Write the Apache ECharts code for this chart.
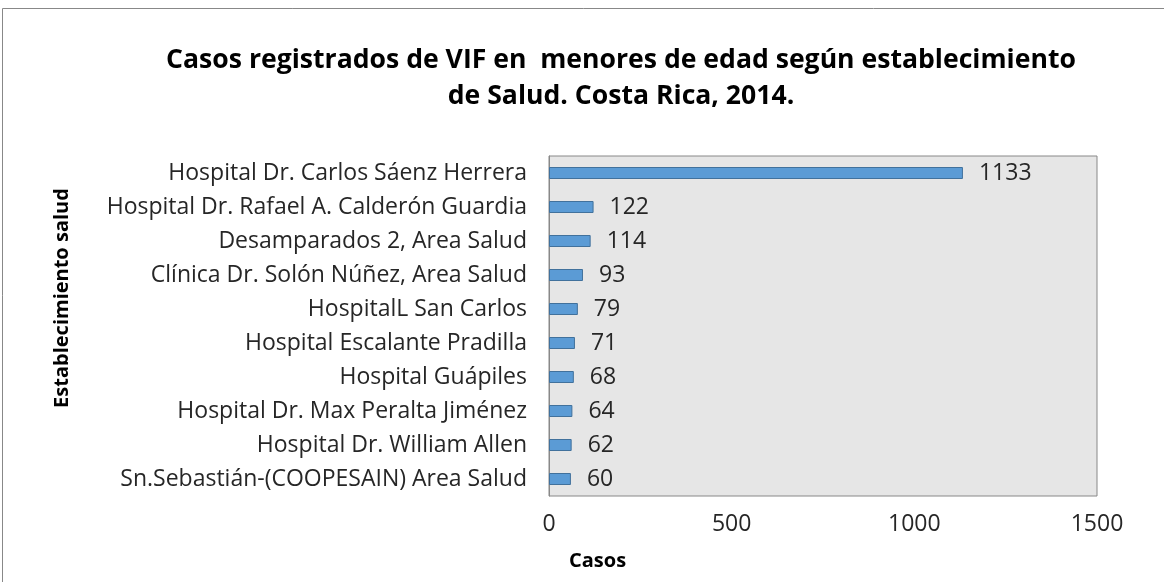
<!DOCTYPE html>
<html>
<head>
<meta charset="utf-8">
<script src="https://cdn.jsdelivr.net/npm/echarts@6/dist/echarts.min.js"></script>
<style>
  html, body { margin: 0; padding: 0; background: #fff; }
  #chart { width: 1164px; height: 582px; }
</style>
</head>
<body>
<div id="chart"></div>
<script>
// Establecimientos (de arriba hacia abajo, como en la figura)
const establecimientos = [
    "Hospital Dr. Carlos Sáenz Herrera",
    "Hospital Dr. Rafael A. Calderón Guardia",
    "Desamparados 2, Area Salud",
    "Clínica Dr. Solón Núñez, Area Salud",
    "HospitalL San Carlos",
    "Hospital Escalante Pradilla",
    "Hospital Guápiles",
    "Hospital Dr. Max Peralta Jiménez",
    "Hospital Dr. William Allen",
    "Sn.Sebastián-(COOPESAIN) Area Salud"
];
const casos = [1133, 122, 114, 93, 79, 71, 68, 64, 62, 60];
const ticksX = [0, 500, 1000, 1500];

const fuente = "Open Sans";
const chart = echarts.init(document.getElementById("chart"));

const option = {
    animation: false,
    title: {
        text: "Casos registrados de VIF en  menores de edad según establecimiento\nde Salud. Costa Rica, 2014.",
        left: 616,
        top: 37,
        textAlign: "center",
        textStyle: { fontFamily: fuente, fontSize: 26.6, fontWeight: "bold", color: "#000", lineHeight: 36 }
    },
    graphic: [
        // marco exterior: solo arriba y a la izquierda
        {
            type: "polyline",
            shape: { points: [[2.5, 582], [2.5, 8.5], [1164, 8.5]] },
            style: { fill: "none", stroke: "#888", lineWidth: 1 },
            silent: true
        },
        // título del eje vertical
        {
            type: "text",
            x: 62,
            y: 298,
            rotation: Math.PI / 2,
            style: { text: "Establecimiento salud", fontFamily: fuente, fontSize: 20, fontWeight: "bold",
                fill: "#000", align: "center", verticalAlign: "middle" }
        }
    ],
    grid: { left: 549, right: 67, top: 156, bottom: 86, containLabel: false,
        show: true, backgroundColor: "#e6e6e6", borderColor: "#888", borderWidth: 1 },
    xAxis: {
        type: "value",
        min: ticksX[0],
        max: ticksX[ticksX.length - 1],
        interval: 500,
        name: "Casos",
        nameLocation: "start",
        nameGap: 0,
        nameTextStyle: { fontFamily: fuente, fontSize: 20, fontWeight: "bold", color: "#000",
            align: "left", verticalAlign: "top", padding: [55, 0, 0, 20] },
        axisLine: { show: false },
        axisTick: { show: false },
        splitLine: { show: false },
        axisLabel: { fontFamily: fuente, fontSize: 23, color: "#262626", margin: 17,
            formatter: v => String(v) }
    },
    yAxis: {
        type: "category",
        data: establecimientos,
        inverse: true,
        axisLine: { show: true, lineStyle: { color: "#888" } },
        axisTick: { show: false },
        axisLabel: { fontFamily: fuente, fontSize: 23, color: "#262626", margin: 22 }
    },
    series: [{
        type: "bar",
        data: casos,
        barWidth: 12,
        itemStyle: { color: "#5b9bd5", borderColor: "#41719c", borderWidth: 1 },
        label: { show: true, position: "right", distance: 16, fontFamily: fuente, fontSize: 23, color: "#262626" }
    }]
};

chart.setOption(option);
</script>
</body>
</html>
